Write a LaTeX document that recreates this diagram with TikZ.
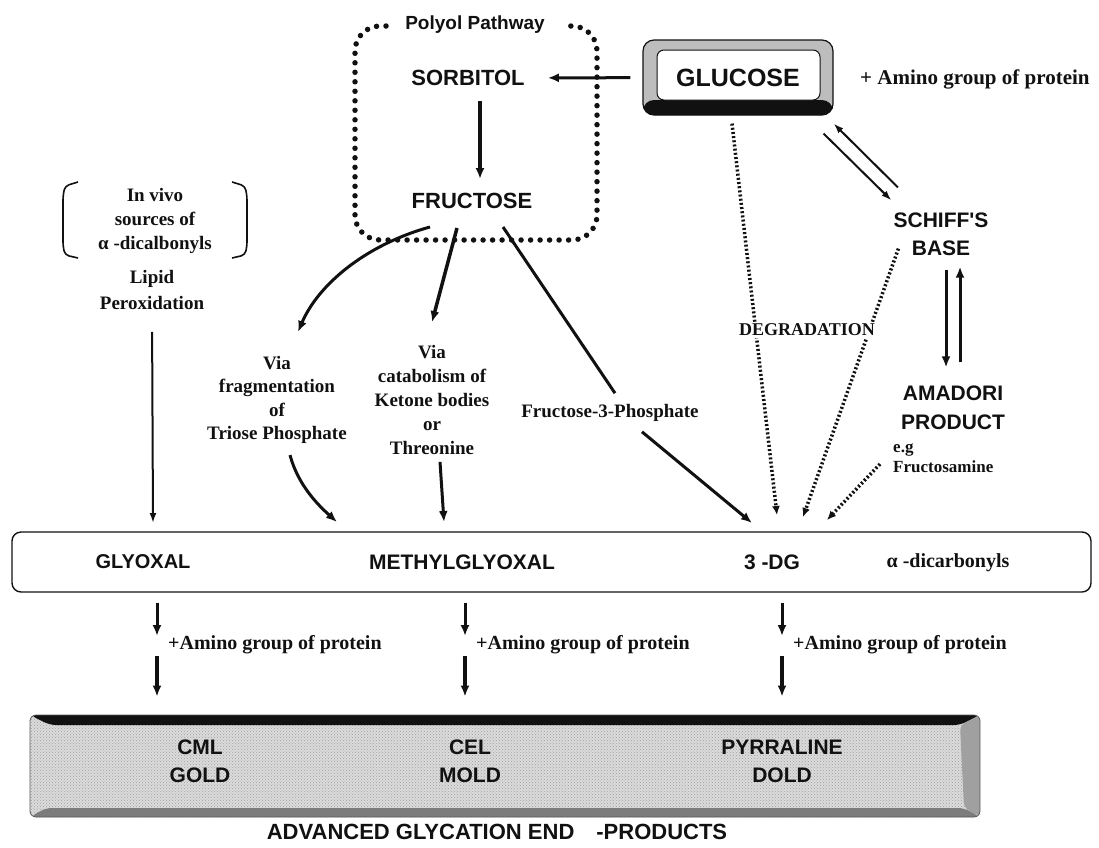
\documentclass[tikz,border=0pt]{standalone}
\usepackage{fontspec}
\newfontfamily\labsans{Liberation Sans}
\newfontfamily\labserif{Liberation Serif}
\usetikzlibrary{arrows.meta,calc,patterns}
\definecolor{Ink}{HTML}{111111}
\definecolor{Stipple}{HTML}{BDBDBD}

\begin{document}
\begin{tikzpicture}[x=1pt,y=-1pt,>={Latex[length=11pt,width=9pt]},
  sanslab/.style 2 args={inner sep=0pt,text=Ink,align=center,font=\labsans\bfseries\fontsize{#1}{#2}\selectfont},
  seriflab/.style 2 args={inner sep=0pt,text=Ink,align=center,font=\labserif\bfseries\fontsize{#1}{#2}\selectfont},
  boldarrow/.style={->,draw=Ink,line width=3pt},
  thinarrow/.style={-{Latex[length=10pt,width=7pt]},draw=Ink,line width=2pt},
  dotarrow/.style={-{Latex[length=9pt,width=8pt]},draw=Ink,line width=3.5pt,dash pattern=on 2pt off 2.2pt},
  polyolrim/.style={draw=Ink,line width=5.5pt,line cap=round,dash pattern=on 0pt off 9.5pt,rounded corners=25pt},
  bracketline/.style={draw=Ink,line width=1.6pt,rounded corners=4pt},
  glucosebox/.style={sanslab={25}{30},draw=Ink,line width=1.2pt,fill=Stipple,rounded corners=11pt,
    minimum width=190pt,minimum height=75pt,
    path picture={
      \fill[Ink] ([yshift=15pt]path picture bounding box.south west) rectangle (path picture bounding box.south east);
      \filldraw[fill=white,draw=Ink,line width=1pt,rounded corners=7pt]
        ([shift={(14,10)}]path picture bounding box.north west) rectangle ([shift={(-13,-15)}]path picture bounding box.south east);
    }},
  midframe/.style={draw=Ink,line width=1.4pt,rounded corners=9pt,minimum width=1079pt,minimum height=60pt,inner sep=0pt},
  ageframe/.style={draw=Ink!70,line width=0.8pt,rounded corners=6pt,minimum width=950pt,minimum height=102pt,inner sep=0pt,
    preaction={fill=Stipple!55},pattern=crosshatch dots,pattern color=Ink!40,
    path picture={
      \fill[Ink] (path picture bounding box.north west) -- (path picture bounding box.north east)
        -- ([shift={(-20,10)}]path picture bounding box.north east) -- ([shift={(20,10)}]path picture bounding box.north west) -- cycle;
      \fill[Ink!55] (path picture bounding box.south west) -- (path picture bounding box.south east)
        -- ([shift={(-16,-9)}]path picture bounding box.south east) -- ([shift={(16,-9)}]path picture bounding box.south west) -- cycle;
      \fill[Ink!40] (path picture bounding box.north east) -- (path picture bounding box.south east)
        -- ([shift={(-16,-9)}]path picture bounding box.south east) -- ([shift={(-20,10)}]path picture bounding box.north east) -- cycle;
    }}]
\useasboundingbox (0,0) rectangle (1099,847);

\draw[polyolrim] (386,26) -| (355,240) -| (597,26) -- (564,26);
\node[sanslab={19}{23}] (polyol) at (475,25) {Polyol Pathway};
\node[sanslab={22}{26}] (sorbitol) at (468,78) {SORBITOL};
\node[sanslab={22}{26}] (fructose) at (472,201) {FRUCTOSE};
\node[glucosebox] (glucose) at (738,77.5) {GLUCOSE};
\node[seriflab={21}{25},anchor=west] (aminotop) at (860,79) {+ Amino group of protein};
\node[sanslab={21}{28}] (schiff) at (941,234) {SCHIFF'S\\BASE};
\node[sanslab={21}{29}] (amadori) at (953,407.5) {AMADORI\\PRODUCT};
\node[seriflab={17}{20},anchor=west,align=left] (fructosamine) at (893,458) {e.g\\Fructosamine};

\draw[bracketline] (78,182) -- (65,186) -- (63,196) -- (63,246) -- (65,255) -- (78,258);
\draw[bracketline] (232,182) -- (245,186) -- (247,196) -- (247,246) -- (245,255) -- (232,258);
\node[seriflab={19}{24}] (invivo) at (155,221) {In vivo\\sources of\\α -dicalbonyls};
\node[seriflab={19}{26}] (lipid) at (152,290) {Lipid\\Peroxidation};
\node[seriflab={19}{23.5}] (triose) at (277,400) {Via\\fragmentation\\of\\Triose Phosphate};
\node[seriflab={19}{24}] (ketone) at (432,400) {Via\\catabolism of\\Ketone bodies\\or\\Threonine};
\node[seriflab={19}{23}] (f3p) at (610,413) {Fructose-3-Phosphate};

\node[midframe] (midbox) at (551.5,562) {};
\node[sanslab={20}{24}] (glyoxal) at (143,562) {GLYOXAL};
\node[sanslab={21}{24}] (mgo) at (462,562) {METHYLGLYOXAL};
\node[sanslab={21}{24}] (threedg) at (772,562) {3 -DG};
\node[seriflab={20}{24}] (dicarb) at (948,563) {α -dicarbonyls};

\node[ageframe] (agebox) at (505,766) {};
\node[sanslab={21}{28}] (cml) at (200,761) {CML\\GOLD};
\node[sanslab={21}{28}] (cel) at (470,761) {CEL\\MOLD};
\node[sanslab={21}{28}] (pyrraline) at (782,761) {PYRRALINE\\DOLD};
\node[sanslab={22}{26}] (agetitle) at (497,832) {ADVANCED GLYCATION END\quad -PRODUCTS};

\coordinate (lipidtip) at (153,523);
\coordinate (triosetip) at (337,522);
\coordinate (ketotip) at (444,522);
\coordinate (f3ptip) at (752,523);
\coordinate (dgtip1) at (777,515);
\coordinate (dgtip2) at (803,517);
\coordinate (dgtip3) at (827,520);

\draw[boldarrow,shorten <=12pt,shorten >=23pt] (glucose) -- (sorbitol);
\draw[boldarrow,line width=3.5pt,shorten <=15pt,shorten >=14pt] ([xshift=12pt]sorbitol.south) -- ([xshift=8pt]fructose.north);
\draw[boldarrow] ([shift={(-42,18)}]fructose.south) .. controls (365,245) and (318,285) .. ([shift={(21,-24)}]triose.north);
\draw[boldarrow,line width=3.5pt] ([shift={(-15,19)}]fructose.south) -- ([yshift=23pt]ketone.north);
\draw[Ink,line width=3pt] ([shift={(31,18)}]fructose.south) -- ([shift={(5,-11)}]f3p.north);
\draw[boldarrow] ([shift={(32,10)}]f3p.south) -- (f3ptip);
\draw[thinarrow,shorten <=22pt] (lipid.south) -- (lipidtip);
\draw[boldarrow] ([shift={(13,11)}]triose.south) .. controls (298,485) and (318,505) .. (triosetip);
\draw[boldarrow] ([shift={(8,7)}]ketone.south) -- (ketotip);

\draw[thinarrow] ([shift={(-10,18)}]glucose.south east) -- ([shift={(-2,-12)}]schiff.north west);
\draw[thinarrow] ([shift={(4.5,-25)}]schiff.north west) -- ([yshift=-8pt]glucose.south east);
\draw[boldarrow,shorten <=14pt,shorten >=18pt] ([xshift=5pt]schiff.south) -- ([xshift=-7pt]amadori.north);
\draw[boldarrow,shorten <=23pt,shorten >=11pt] ([xshift=7pt]amadori.north) -- ([xshift=19pt]schiff.south);

\draw[dotarrow] ([shift={(-6,8)}]glucose.south) -- (dgtip1);
\draw[dotarrow] ([shift={(5,-7)}]schiff.south west) -- (dgtip2);
\draw[dotarrow] ([shift={(-13,6)}]fructosamine.west) -- (dgtip3);
\node[seriflab={18}{22},fill=white,inner sep=2pt] (degradation) at (807,330) {DEGRADATION};

\foreach \col/\ax in {a/157,b/465,c/782}{
  \coordinate (amino\col) at (\ax,645);
  \node[seriflab={20}{24},anchor=west] (aminolab\col) at ([xshift=11pt]amino\col) {+Amino group of protein};
  \draw[boldarrow,shorten <=10pt,shorten >=9pt] (midbox.south -| amino\col) -- (amino\col);
  \draw[boldarrow,line width=3.5pt,shorten <=11pt,shorten >=18pt] (amino\col) -- (agebox.north -| amino\col);
}
\end{tikzpicture}
\end{document}
